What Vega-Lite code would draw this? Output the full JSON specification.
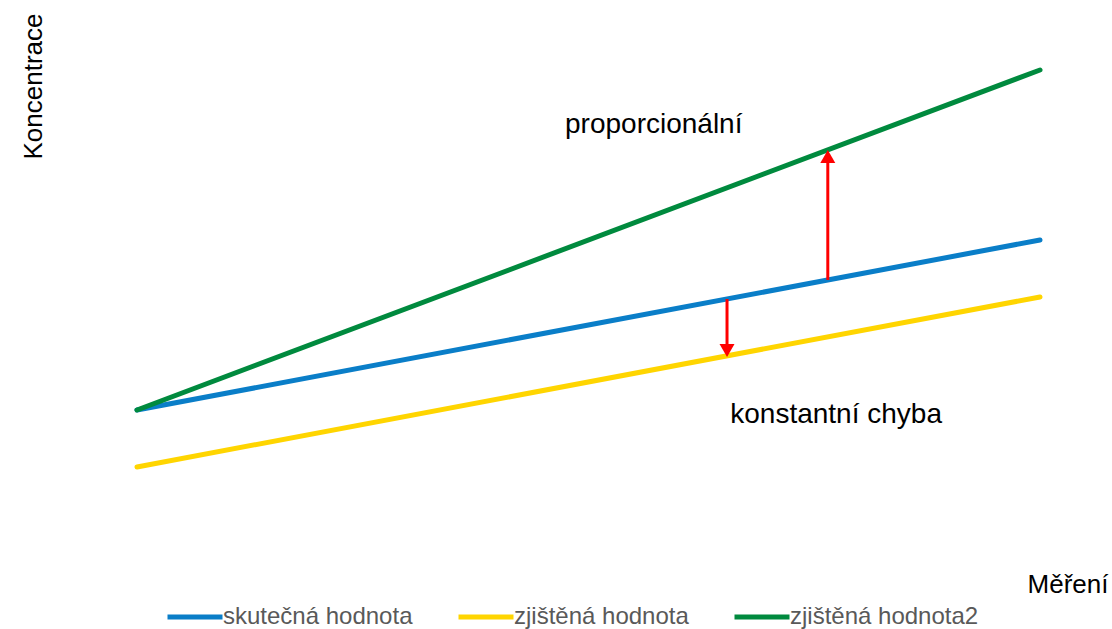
{
  "$schema": "https://vega.github.io/schema/vega-lite/v6.json",
  "width": 903,
  "height": 578,
  "autosize": {"type": "none"},
  "padding": {"left": 137, "top": 2, "right": 72, "bottom": 49},
  "background": "white",
  "config": {"view": {"stroke": null}, "font": "Liberation Sans"},
  "datasets": {
    "linie": [
      {"serie": "skutečná hodnota", "mereni": 0, "koncentrace": 10},
      {"serie": "skutečná hodnota", "mereni": 10, "koncentrace": 20},
      {"serie": "zjištěná hodnota", "mereni": 0, "koncentrace": 6.65},
      {"serie": "zjištěná hodnota", "mereni": 10, "koncentrace": 16.65},
      {"serie": "zjištěná hodnota2", "mereni": 0, "koncentrace": 10},
      {"serie": "zjištěná hodnota2", "mereni": 10, "koncentrace": 30}
    ],
    "sipky": [
      {"smer": "nahoru", "mereni": 7.65, "koncentrace": 17.65, "koncentrace2": 24.6},
      {"smer": "dolu", "mereni": 6.534, "koncentrace": 16.53, "koncentrace2": 13.8}
    ],
    "hroty": [
      {"smer": "nahoru", "mereni": 7.65, "koncentrace": 24.91},
      {"smer": "dolu", "mereni": 6.534, "koncentrace": 13.5}
    ],
    "popisky": [
      {"text": "proporcionální", "mereni": 4.74, "koncentrace": 26.76},
      {"text": "konstantní chyba", "mereni": 6.57, "koncentrace": 9.7}
    ]
  },
  "layer": [
    {
      "data": {"name": "linie"},
      "mark": {"type": "line", "strokeWidth": 5, "strokeCap": "round"},
      "encoding": {
        "x": {
          "field": "mereni", "type": "quantitative",
          "scale": {"domain": [0, 10], "nice": false, "zero": false},
          "axis": {"title": "Měření", "domain": false, "ticks": false, "labels": false, "grid": false,
                   "titleX": 971, "titleY": 4, "titleAlign": "right", "titleBaseline": "middle",
                   "titleFontSize": 26, "titleFontWeight": "normal", "titleColor": "#000000", "titleFont": "Liberation Sans"}
        },
        "y": {
          "field": "koncentrace", "type": "quantitative",
          "scale": {"domain": [0, 34], "nice": false, "zero": false},
          "axis": {"title": "Koncentrace", "domain": false, "ticks": false, "labels": false, "grid": false,
                   "titleX": -104, "titleY": 11, "titleAngle": 270, "titleAlign": "right", "titleBaseline": "middle",
                   "titleFontSize": 26, "titleFontWeight": "normal", "titleColor": "#000000", "titleFont": "Liberation Sans"}
        },
        "color": {
          "field": "serie", "type": "nominal",
          "scale": {"domain": ["skutečná hodnota", "zjištěná hodnota", "zjištěná hodnota2"],
                    "range": ["#0a7ec8", "#ffd500", "#008a3e"]},
          "legend": {"orient": "none", "legendX": 28, "legendY": 585, "direction": "horizontal", "title": null,
                     "symbolType": "stroke", "symbolSize": 3025, "symbolStrokeWidth": 5,
                     "labelFontSize": 24, "labelColor": "#595959", "labelFont": "Liberation Sans",
                     "labelOffset": -2, "columnPadding": 35, "padding": 0, "labelLimit": 400}
        }
      }
    },
    {
      "data": {"name": "sipky"},
      "mark": {"type": "rule", "color": "#ff0000", "strokeWidth": 3},
      "encoding": {
        "x": {"field": "mereni", "type": "quantitative"},
        "y": {"field": "koncentrace", "type": "quantitative"},
        "y2": {"field": "koncentrace2"}
      }
    },
    {
      "data": {"name": "hroty"},
      "mark": {"type": "point", "filled": true, "color": "#ff0000", "size": 225, "opacity": 1},
      "encoding": {
        "x": {"field": "mereni", "type": "quantitative"},
        "y": {"field": "koncentrace", "type": "quantitative"},
        "shape": {"field": "smer", "type": "nominal",
                  "scale": {"domain": ["nahoru", "dolu"], "range": ["triangle-up", "triangle-down"]},
                  "legend": null}
      }
    },
    {
      "data": {"name": "popisky"},
      "mark": {"type": "text", "align": "left", "baseline": "middle", "fontSize": 28, "color": "#000000", "font": "Liberation Sans"},
      "encoding": {
        "x": {"field": "mereni", "type": "quantitative"},
        "y": {"field": "koncentrace", "type": "quantitative"},
        "text": {"field": "text"}
      }
    }
  ]
}
